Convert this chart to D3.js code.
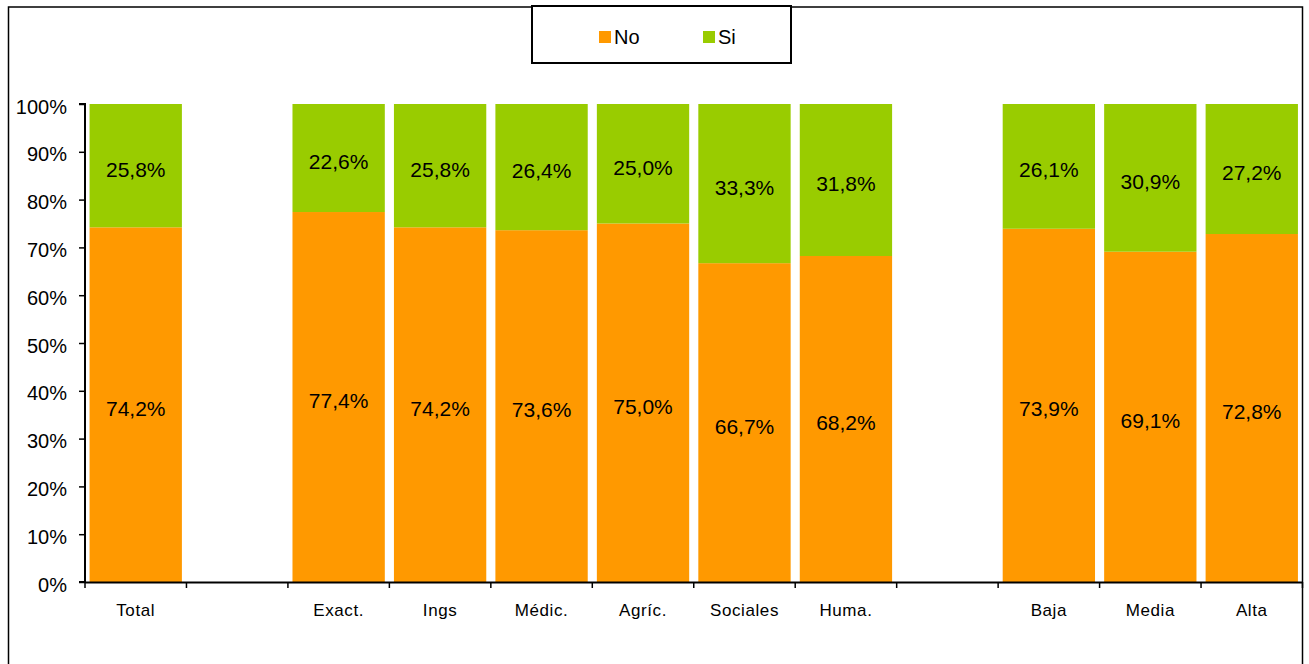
<!DOCTYPE html>
<html lang="es">
<head>
    <meta charset="utf-8">
    <title>No / Si</title>
    <script src="https://d3js.org/d3.v7.min.js"></script>
    <style>
        body { margin: 0; background: #fff; }
        svg { display: block; font-family: "Liberation Sans", Arial, sans-serif; }
    </style>
</head>
<body>
<div id="chart"></div>
<script>
/* global d3 */

// slots: empty strings are gaps between groups
var categories = ["Total", "", "Exact.", "Ings", "Médic.", "Agríc.", "Sociales", "Huma.", "", "Baja", "Media", "Alta"];
var noValues = [74.2, null, 77.4, 74.2, 73.6, 75.0, 66.7, 68.2, null, 73.9, 69.1, 72.8];
var siValues = [25.8, null, 22.6, 25.8, 26.4, 25.0, 33.3, 31.8, null, 26.1, 30.9, 27.2];
var seriesNames = ["No", "Si"];
var seriesColors = ["#ff9900", "#99cc00"];
var yTicks = [0, 10, 20, 30, 40, 50, 60, 70, 80, 90, 100];

var width = 1309,
    height = 664;

var svg = d3.select("#chart").append("svg")
    .attr("width", width)
    .attr("height", height);

// outer frame
svg.append("rect")
    .attr("x", 8.5).attr("y", 7)
    .attr("width", 1294).attr("height", 700)
    .attr("fill", "none")
    .attr("stroke", "#000")
    .attr("stroke-width", 1.5);

var x = d3.scaleBand()
    .domain(d3.range(categories.length))
    .range([85, 1302.5])
    .paddingInner(0.09)
    .paddingOuter(0.045);

var y = d3.scaleLinear()
    .domain([0, 100])
    .range([582, 104]);

// stacked rows
var rows = categories.map(function(c, i) {
    return { i: i, name: c, No: noValues[i], Si: siValues[i] };
}).filter(function(d) { return d.No != null; });

var stack = d3.stack().keys(seriesNames)(rows);

var layers = svg.selectAll("g.layer")
    .data(stack)
    .join("g")
    .attr("class", "layer")
    .attr("fill", function(d, k) { return seriesColors[k]; });

layers.selectAll("rect")
    .data(function(d) { return d; })
    .join("rect")
    .attr("x", function(d) { return x(d.data.i); })
    .attr("width", x.bandwidth())
    .attr("y", function(d) { return y(d[1]); })
    .attr("height", function(d) { return y(d[0]) - y(d[1]); });

layers.selectAll("text")
    .data(function(d) { return d; })
    .join("text")
    .attr("x", function(d) { return x(d.data.i) + x.bandwidth() / 2; })
    .attr("y", function(d) { return (y(d[0]) + y(d[1])) / 2 + 11; })
    .attr("text-anchor", "middle")
    .attr("fill", "#000")
    .style("font-size", "21px")
    .text(function(d) { return (d[1] - d[0]).toFixed(1).replace(".", ",") + "%"; });

// y axis
var yAxis = svg.append("g")
    .attr("transform", "translate(85,0)")
    .call(d3.axisLeft(y).tickValues(yTicks).tickSize(6).tickPadding(12)
        .tickFormat(function(d) { return d + "%"; }));
yAxis.select(".domain").attr("stroke-width", 2).attr("d", "M-6,104H0V582H-6");
yAxis.selectAll(".tick line").attr("stroke-width", 1.5);
yAxis.selectAll("text")
    .attr("dy", "0.45em")
    .style("font-size", "20px")
    .attr("fill", "#000")
    .attr("font-family", "Liberation Sans, Arial, sans-serif");

// x axis: ticks at slot boundaries, labels at slot centres
var step = x.step();
var x0 = 85;
var xAxis = svg.append("g");
xAxis.append("line")
    .attr("x1", x0).attr("x2", 1302.5)
    .attr("y1", 582.5).attr("y2", 582.5)
    .attr("stroke", "#000").attr("stroke-width", 2);
xAxis.selectAll("line.tk")
    .data(d3.range(categories.length + 1))
    .join("line")
    .attr("class", "tk")
    .attr("x1", function(i) { return x0 + i * step; })
    .attr("x2", function(i) { return x0 + i * step; })
    .attr("y1", 582).attr("y2", 588)
    .attr("stroke", "#000").attr("stroke-width", 1.5);
xAxis.selectAll("text")
    .data(categories)
    .join("text")
    .attr("x", function(d, i) { return x(i) + x.bandwidth() / 2; })
    .attr("y", 616)
    .attr("text-anchor", "middle")
    .style("font-size", "17px")
    .style("letter-spacing", "0.6px")
    .text(function(d) { return d; });

// legend
var legend = svg.append("g");
legend.append("rect")
    .attr("x", 532).attr("y", 6)
    .attr("width", 259).attr("height", 57)
    .attr("fill", "#fff")
    .attr("stroke", "#000")
    .attr("stroke-width", 2);
var items = legend.selectAll("g.item")
    .data(seriesNames)
    .join("g")
    .attr("class", "item")
    .attr("transform", function(d, k) { return "translate(" + (599 + k * 104) + ",31)"; });
items.append("rect")
    .attr("width", 12).attr("height", 12)
    .attr("fill", function(d, k) { return seriesColors[k]; });
items.append("text")
    .attr("x", 15).attr("y", 12.5)
    .style("font-size", "20px")
    .text(function(d) { return d; });
</script>
</body>
</html>
